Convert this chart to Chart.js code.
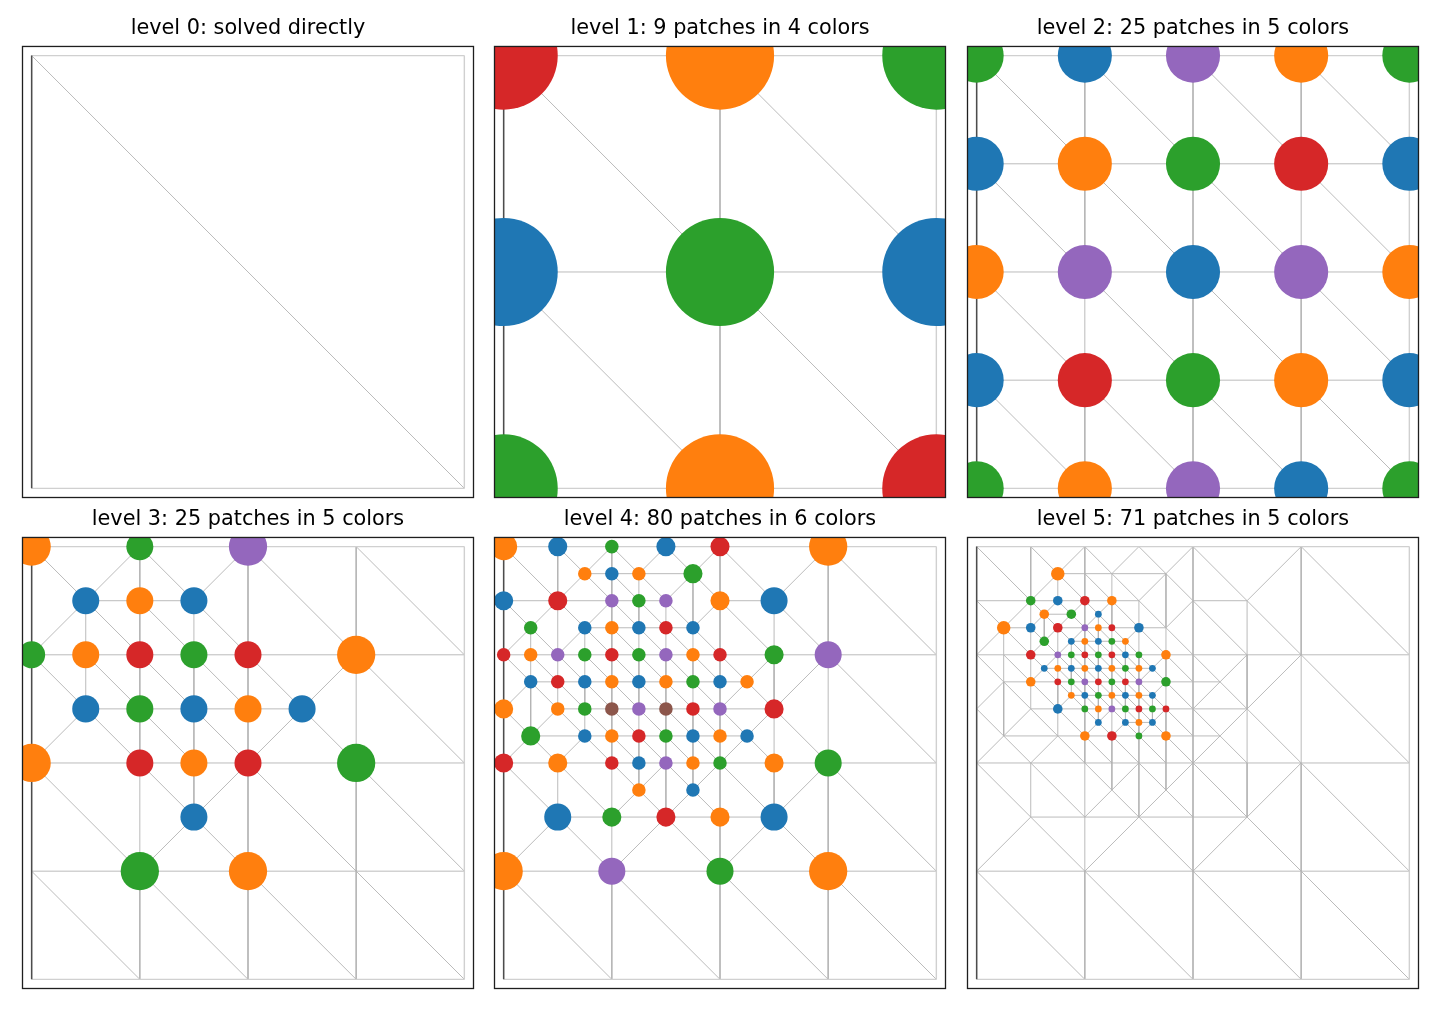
<!DOCTYPE html>
<html>
<head>
<meta charset="utf-8">
<script src="https://cdn.jsdelivr.net/npm/chart.js@4.4.0/dist/chart.umd.min.js"></script>
<style>
  html, body { margin: 0; padding: 0; background: #ffffff; }
  body { width: 1440px; height: 1020px; position: relative; overflow: hidden; }
  canvas { position: absolute; }
</style>
</head>
<body>
<canvas id="c0" width="458" height="501" style="left:19px;top:0px"></canvas>
<canvas id="c1" width="458" height="501" style="left:491px;top:0px"></canvas>
<canvas id="c2" width="458" height="501" style="left:964px;top:0px"></canvas>
<canvas id="c3" width="458" height="495" style="left:19px;top:497px"></canvas>
<canvas id="c4" width="458" height="495" style="left:491px;top:497px"></canvas>
<canvas id="c5" width="458" height="495" style="left:964px;top:497px"></canvas>
<script>
// ---------------- data ----------------
const levelTitles = [
  'level 0: solved directly',
  'level 1: 9 patches in 4 colors',
  'level 2: 25 patches in 5 colors',
  'level 3: 25 patches in 5 colors',
  'level 4: 80 patches in 6 colors',
  'level 5: 71 patches in 5 colors'
];
// number of grid steps per unit length on each level
const gridDivisions = [1, 2, 4, 8, 16, 32];

// level-0 mesh: unit square cut by the diagonal from (0,1) to (1,0)
const coarseTriangles = [
  [[0, 1], [0, 0], [1, 0]],
  [[0, 1], [1, 1], [1, 0]]
];

const palette = {
  blue: '#1f77b4', orange: '#ff7f0e', green: '#2ca02c',
  red: '#d62728', purple: '#9467bd', brown: '#8c564b'
};

// patches: [i, j, colour, size step]  (grid indices on that level, j from the bottom;
// patch radius = (sqrt 2)^step * grid step / 4)
const level1Patches = [
  [0,2,'red',0],[1,2,'orange',0],[2,2,'green',0],
  [0,1,'blue',0],[1,1,'green',0],[2,1,'blue',0],
  [0,0,'green',0],[1,0,'orange',0],[2,0,'red',0]
];

const level2Patches = [
  [0,4,'green',0],[1,4,'blue',0],[2,4,'purple',0],[3,4,'orange',0],[4,4,'green',0],
  [0,3,'blue',0],[1,3,'orange',0],[2,3,'green',0],[3,3,'red',0],[4,3,'blue',0],
  [0,2,'orange',0],[1,2,'purple',0],[2,2,'blue',0],[3,2,'purple',0],[4,2,'orange',0],
  [0,1,'blue',0],[1,1,'red',0],[2,1,'green',0],[3,1,'orange',0],[4,1,'blue',0],
  [0,0,'green',0],[1,0,'orange',0],[2,0,'purple',0],[3,0,'blue',0],[4,0,'green',0]
];

const level3Patches = [
  [0,8,'orange',1],[2,8,'green',0],[4,8,'purple',1],
  [1,7,'blue',0],[2,7,'orange',0],[3,7,'blue',0],
  [0,6,'green',0],[1,6,'orange',0],[2,6,'red',0],[3,6,'green',0],[4,6,'red',0],[6,6,'orange',1],
  [1,5,'blue',0],[2,5,'green',0],[3,5,'blue',0],[4,5,'orange',0],[5,5,'blue',0],
  [0,4,'orange',1],[2,4,'red',0],[3,4,'orange',0],[4,4,'red',0],[6,4,'green',1],
  [3,3,'blue',0],
  [2,2,'green',1],[4,2,'orange',1]
];

const level4Patches = [
  [0,16,'orange',2],[2,16,'blue',1],[4,16,'green',0],[6,16,'blue',1],[8,16,'red',1],[12,16,'orange',3],
  [3,15,'orange',0],[4,15,'blue',0],[5,15,'orange',0],[7,15,'green',1],
  [0,14,'blue',1],[2,14,'red',1],[4,14,'purple',0],[5,14,'green',0],[6,14,'purple',0],[8,14,'orange',1],[10,14,'blue',2],
  [1,13,'green',0],[3,13,'blue',0],[4,13,'orange',0],[5,13,'blue',0],[6,13,'red',0],[7,13,'blue',0],
  [0,12,'red',0],[1,12,'orange',0],[2,12,'purple',0],[3,12,'green',0],[4,12,'red',0],[5,12,'green',0],
  [6,12,'purple',0],[7,12,'orange',0],[8,12,'red',0],[10,12,'green',1],[12,12,'purple',2],
  [1,11,'blue',0],[2,11,'red',0],[3,11,'blue',0],[4,11,'orange',0],[5,11,'blue',0],[6,11,'orange',0],
  [7,11,'green',0],[8,11,'blue',0],[9,11,'orange',0],
  [0,10,'orange',1],[2,10,'orange',0],[3,10,'green',0],[4,10,'brown',0],[5,10,'purple',0],[6,10,'brown',0],
  [7,10,'red',0],[8,10,'purple',0],[10,10,'red',1],
  [1,9,'green',1],[3,9,'blue',0],[4,9,'orange',0],[5,9,'red',0],[6,9,'green',0],[7,9,'blue',0],
  [8,9,'orange',0],[9,9,'blue',0],
  [0,8,'red',1],[2,8,'orange',1],[4,8,'red',0],[5,8,'blue',0],[6,8,'purple',0],[7,8,'orange',0],
  [8,8,'green',0],[10,8,'orange',1],[12,8,'green',2],
  [5,7,'orange',0],[7,7,'blue',0],
  [2,6,'blue',2],[4,6,'green',1],[6,6,'red',1],[8,6,'orange',1],[10,6,'blue',2],
  [0,4,'orange',3],[4,4,'purple',2],[8,4,'green',2],[12,4,'orange',3]
];

const level5Patches = [
  [6,30,'orange',2],
  [4,28,'green',1],[6,28,'blue',1],[8,28,'red',1],[10,28,'orange',1],
  [5,27,'orange',1],[7,27,'green',1],[9,27,'blue',0],
  [2,26,'orange',2],[4,26,'blue',1],[6,26,'red',1],[8,26,'purple',0],[9,26,'orange',0],[10,26,'red',0],[12,26,'blue',1],
  [5,25,'green',1],[7,25,'blue',0],[8,25,'orange',0],[9,25,'blue',0],[10,25,'green',0],[11,25,'orange',0],
  [4,24,'red',1],[6,24,'purple',0],[7,24,'green',0],[8,24,'red',0],[9,24,'green',0],[10,24,'red',0],
  [11,24,'blue',0],[12,24,'green',0],[14,24,'orange',1],
  [5,23,'blue',0],[6,23,'orange',0],[7,23,'blue',0],[8,23,'orange',0],[9,23,'blue',0],[10,23,'orange',0],
  [11,23,'green',0],[12,23,'orange',0],[13,23,'blue',0],
  [4,22,'orange',1],[6,22,'red',0],[7,22,'green',0],[8,22,'purple',0],[9,22,'red',0],[10,22,'green',0],
  [11,22,'red',0],[12,22,'purple',0],[14,22,'green',1],
  [7,21,'orange',0],[8,21,'blue',0],[9,21,'green',0],[10,21,'orange',0],[11,21,'blue',0],[12,21,'orange',0],[13,21,'blue',0],
  [6,20,'blue',1],[8,20,'green',0],[9,20,'orange',0],[10,20,'purple',0],[11,20,'green',0],[12,20,'red',0],
  [13,20,'green',0],[14,20,'red',0],
  [9,19,'blue',0],[11,19,'blue',0],[12,19,'orange',0],[13,19,'blue',0],
  [8,18,'orange',1],[10,18,'red',1],[12,18,'green',0],[14,18,'orange',1]
];

const patchesByLevel = [[], level1Patches, level2Patches, level3Patches, level4Patches, level5Patches];

// ---------------- mesh hierarchy: each level's new patch vertices split the previous triangles ----------------
function splitTriangle(t, marked, out) {
  const mids = [0, 1, 2].map(k => {
    const a = t[k], b = t[(k + 1) % 3];
    return [(a[0] + b[0]) / 2, (a[1] + b[1]) / 2];
  });
  const flags = mids.map(m => marked.has(m[0] + ',' + m[1]));
  const count = flags.filter(Boolean).length;
  if (count === 0) { out.push(t); return; }
  if (count === 3) {
    const [m0, m1, m2] = mids;
    out.push([t[0], m0, m2], [m0, t[1], m1], [m2, m1, t[2]], [m0, m1, m2]);
    return;
  }
  const len = [0, 1, 2].map(k => {
    const a = t[k], b = t[(k + 1) % 3];
    return (a[0] - b[0]) ** 2 + (a[1] - b[1]) ** 2;
  });
  let k = -1;
  [0, 1, 2].forEach(i => { if (flags[i] && (k < 0 || len[i] > len[k])) k = i; });
  const a = t[k], b = t[(k + 1) % 3], c = t[(k + 2) % 3], m = mids[k];
  const rest = new Set(marked);
  rest.delete(m[0] + ',' + m[1]);
  splitTriangle([a, m, c], rest, out);
  splitTriangle([m, b, c], rest, out);
}

function refineMesh(tris, patches) {
  const marked = new Set(patches.map(p => p[0] + ',' + p[1]));
  const out = [];
  tris.forEach(t => splitTriangle(t.map(p => [2 * p[0], 2 * p[1]]), marked, out));
  return out;
}

const meshes = [coarseTriangles];
for (let L = 1; L < gridDivisions.length; L++) meshes.push(refineMesh(meshes[L - 1], patchesByLevel[L]));

function meshEdges(tris, N) {
  const seen = new Set();
  const interior = [], boundary = [], dirichlet = [];
  const gap = { x: null, y: null };
  tris.forEach(t => {
    for (let k = 0; k < 3; k++) {
      const a = t[k], b = t[(k + 1) % 3];
      const key = [a.join(','), b.join(',')].sort().join('|');
      if (seen.has(key)) continue;
      seen.add(key);
      const seg = [{ x: a[0] / N, y: a[1] / N }, { x: b[0] / N, y: b[1] / N }, gap];
      const onLeft = a[0] === 0 && b[0] === 0;
      const onOther = (a[0] === N && b[0] === N) || (a[1] === 0 && b[1] === 0) || (a[1] === N && b[1] === N);
      if (onLeft) { dirichlet.push(...seg); boundary.push(...seg); }
      else if (onOther) boundary.push(...seg);
      else interior.push(...seg);
    }
  });
  return { interior, boundary, dirichlet };
}

// ---------------- charts ----------------
const framePlugin = {
  id: 'frame',
  afterDatasetsDraw(chart) {
    const { ctx, chartArea: a } = chart;
    ctx.save();
    ctx.strokeStyle = '#1e1e1e';
    ctx.lineWidth = 1.3;
    ctx.strokeRect(a.left - 0.5, a.top - 0.5, a.right - a.left + 1, a.bottom - a.top + 1);
    ctx.restore();
  }
};

function pxPerUnit(chart) {
  const s = chart.scales.x;
  return Math.abs(s.getPixelForValue(1) - s.getPixelForValue(0));
}

for (let L = 0; L < 6; L++) {
  const N = gridDivisions[L];
  const edges = meshEdges(meshes[L], N);
  const pts = patchesByLevel[L].map(p => ({
    x: p[0] / N, y: p[1] / N, c: palette[p[2]], r: Math.pow(Math.SQRT2, p[3]) / (4 * N)
  }));
  const row = L < 3 ? 0 : 1;
  new Chart(document.getElementById('c' + L), {
    type: 'scatter',
    data: {
      datasets: [
        {
          label: 'patches', data: pts, order: 0, clip: 0,
          pointRadius: ctx => (ctx.raw ? ctx.raw.r * pxPerUnit(ctx.chart) : 0),
          pointHoverRadius: ctx => (ctx.raw ? ctx.raw.r * pxPerUnit(ctx.chart) : 0),
          pointBackgroundColor: ctx => (ctx.raw ? ctx.raw.c : '#000'),
          pointBorderWidth: 0, pointBorderColor: 'rgba(0,0,0,0)'
        },
        {
          label: 'Dirichlet boundary', data: edges.dirichlet, order: 1, showLine: true, clip: 0,
          borderColor: '#4d4d4d', borderWidth: 1.5, pointRadius: 0, spanGaps: false, tension: 0
        },
        {
          label: 'boundary', data: edges.boundary, order: 2, showLine: true, clip: 0,
          borderColor: '#d0d0d0', borderWidth: 1.4, pointRadius: 0, spanGaps: false, tension: 0
        },
        {
          label: 'mesh', data: edges.interior, order: 3, showLine: true, clip: 0,
          borderColor: '#b3b3b3', borderWidth: 0.9, pointRadius: 0, spanGaps: false, tension: 0
        }
      ]
    },
    options: {
      responsive: false, animation: false, events: [],
      layout: { padding: { left: 4, right: 4, top: 0, bottom: 4 } },
      plugins: {
        legend: { display: false },
        tooltip: { enabled: false },
        title: {
          display: true, text: levelTitles[L], color: '#000000',
          font: { family: 'DejaVu Sans', size: 20.8, weight: 'normal', lineHeight: 1.2 },
          padding: { top: row === 0 ? 16.3 : 10.3, bottom: 5.7 }
        }
      },
      scales: {
        x: { type: 'linear', min: -0.02, max: 1.02, display: false },
        y: { type: 'linear', min: -0.02, max: 1.02, display: false }
      }
    },
    plugins: [framePlugin]
  });
}
</script>
</body>
</html>
